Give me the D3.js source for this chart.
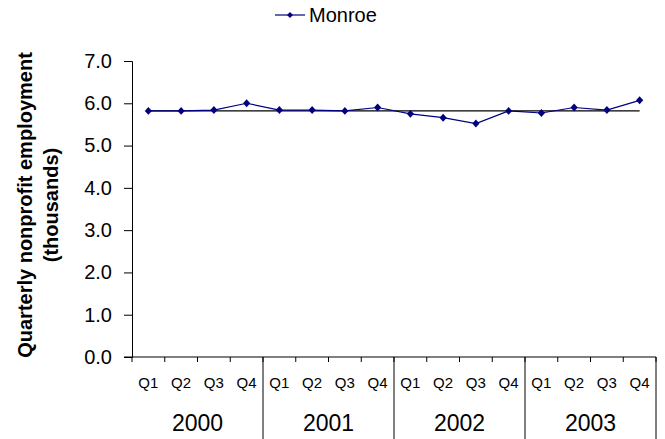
<!DOCTYPE html>
<html>
<head>
<meta charset="utf-8">
<script src="https://cdnjs.cloudflare.com/ajax/libs/d3/7.8.5/d3.min.js"></script>
<style>
  html, body { margin: 0; padding: 0; background: #fff; }
  svg { display: block; }
  text { font-family: "Liberation Sans", Arial, sans-serif; fill: #000; }
</style>
</head>
<body>
<div id="chart"></div>
<script>
// Quarterly nonprofit employment, Monroe (thousands)
const years = ["2000", "2001", "2002", "2003"];
const quarters = ["Q1", "Q2", "Q3", "Q4"];
const seriesName = "Monroe";
const monroe = [5.82, 5.82, 5.84, 6.00, 5.84, 5.84, 5.82, 5.90,
                5.75, 5.66, 5.52, 5.82, 5.77, 5.90, 5.84, 6.07];
// Reference level drawn as a flat line: the first-quarter 2000 value
const baseline = monroe[0];
const yTicks = [0, 1, 2, 3, 4, 5, 6, 7];

const W = 665, H = 439;
const margin = { left: 132, right: 9, top: 61, bottom: 82 };
const navy = "#000080";

const svg = d3.select("#chart").append("svg")
  .attr("width", W).attr("height", H);

const cats = [];
years.forEach(y => quarters.forEach(q => cats.push(y + " " + q)));
const data = cats.map((c, i) => ({ key: c, year: c.split(" ")[0], q: c.split(" ")[1], v: monroe[i] }));

const x = d3.scaleBand().domain(cats).range([margin.left, W - margin.right]).paddingInner(0).paddingOuter(0);
const y = d3.scaleLinear().domain([0, 7]).range([H - margin.bottom, margin.top]);
const y0 = y(0);

// Y axis
const yAxis = svg.append("g")
  .attr("transform", `translate(${margin.left},0)`)
  .call(d3.axisLeft(y).tickValues(yTicks).tickFormat(d3.format(".1f")).tickSizeOuter(0).tickSize(8).tickPadding(12));
yAxis.select(".domain").attr("stroke", "#000");
yAxis.selectAll(".tick line").attr("stroke", "#000");
yAxis.selectAll(".tick text").style("font-size", "20px").attr("fill", "#000");

// X axis: tick marks at every category boundary
const bounds = cats.map(c => x(c)).concat([x(cats[cats.length - 1]) + x.bandwidth()]);
svg.append("line")
  .attr("x1", margin.left - 8).attr("x2", W - margin.right)
  .attr("y1", y0).attr("y2", y0).attr("stroke", "#000");
svg.selectAll(".xtick").data(bounds).join("line")
  .attr("class", "xtick")
  .attr("x1", d => d).attr("x2", d => d)
  .attr("y1", y0).attr("y2", y0 + 5).attr("stroke", "#000");

// Year separators
const yearEnds = years.map((yr, i) => bounds[(i + 1) * quarters.length]);
svg.selectAll(".ysep").data(yearEnds).join("line")
  .attr("class", "ysep")
  .attr("x1", d => d).attr("x2", d => d)
  .attr("y1", y0).attr("y2", H).attr("stroke", "#000");

// Quarter labels
svg.selectAll(".qlab").data(data).join("text")
  .attr("class", "qlab")
  .attr("x", d => x(d.key) + x.bandwidth() / 2)
  .attr("y", y0 + 31)
  .attr("text-anchor", "middle")
  .style("font-size", "15px")
  .text(d => d.q);

// Year labels
svg.selectAll(".ylab").data(years).join("text")
  .attr("class", "ylab")
  .attr("x", (d, i) => (bounds[i * 4] + bounds[i * 4 + 4]) / 2)
  .attr("y", y0 + 74)
  .attr("text-anchor", "middle")
  .style("font-size", "23px")
  .text(d => d);

// Y axis title
const title = svg.append("text")
  .attr("transform", `translate(32,${(y(0) + y(7)) / 2 - 4}) rotate(-90)`)
  .attr("text-anchor", "middle")
  .style("font-size", "20px").style("font-weight", "bold");
title.append("tspan").attr("x", 0).attr("dy", 0).text("Quarterly nonprofit employment");
title.append("tspan").attr("x", 0).attr("dy", 26).text("(thousands)");

// Reference line
svg.append("line")
  .attr("x1", x(cats[0]) + x.bandwidth() / 2)
  .attr("x2", x(cats[cats.length - 1]) + x.bandwidth() / 2)
  .attr("y1", y(baseline)).attr("y2", y(baseline))
  .attr("stroke", "#000").attr("stroke-width", 1.3);

// Series line
const line = d3.line().x(d => x(d.key) + x.bandwidth() / 2).y(d => y(d.v));
svg.append("path").datum(data)
  .attr("d", line).attr("fill", "none")
  .attr("stroke", navy).attr("stroke-width", 1.2);

// Diamond markers: a square turned 45 degrees
const marker = d3.symbol().type(d3.symbolSquare).size(26);
svg.selectAll(".pt").data(data).join("path")
  .attr("class", "pt")
  .attr("transform", d => `translate(${x(d.key) + x.bandwidth() / 2},${y(d.v)}) scale(1,1.1) rotate(45)`)
  .attr("d", marker).attr("fill", navy);

// Legend
const lg = svg.append("g").attr("transform", "translate(275,15)");
lg.append("line").attr("x1", 0).attr("x2", 30).attr("y1", 0).attr("y2", 0)
  .attr("stroke", navy).attr("stroke-width", 1.2);
lg.append("path").attr("transform", "translate(15,0) rotate(45)")
  .attr("d", d3.symbol().type(d3.symbolSquare).size(18)).attr("fill", navy);
lg.append("text").attr("x", 34).attr("y", 0).attr("dy", "0.35em")
  .style("font-size", "20px").text(seriesName);
</script>
</body>
</html>
